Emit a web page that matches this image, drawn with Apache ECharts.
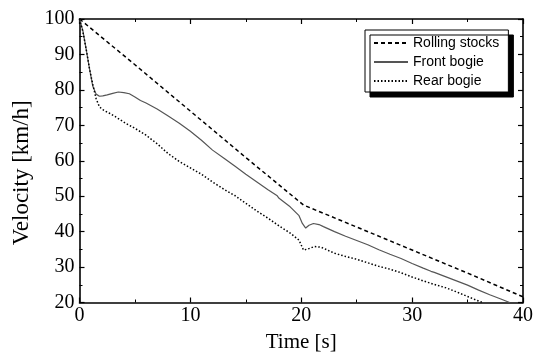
<!DOCTYPE html>
<html>
<head>
<meta charset="utf-8">
<script src="https://cdn.jsdelivr.net/npm/echarts@6/dist/echarts.min.js"></script>
<style>
  html, body { margin: 0; padding: 0; background: #fff; }
  #chart { width: 542px; height: 363px; }
</style>
</head>
<body>
<div id="chart"></div>
<script>
// 读图估出来的数据
const rollingTime = [0, 5, 10, 15, 20.2, 25, 30, 35, 40];
const rollingVel = [100, 87.1, 74.0, 60.9, 47.5, 41.3, 34.8, 28.3, 21.6];

const frontTime = [0, 0.3, 0.6, 0.9, 1.2, 1.5, 1.8, 2.1, 2.5, 3.0, 3.5, 4.0, 4.5, 5.0, 5.5, 6, 7, 8, 9, 10,
  11, 12, 13, 14, 15, 16, 17, 17.8, 18, 19, 19.8, 20.1, 20.4, 20.7, 21.1, 21.6, 22, 23, 24, 25, 26, 27, 28,
  29, 30, 31, 31.7, 32, 33, 34, 35, 36, 37, 38, 38.8];
const frontVel = [100, 96.8, 91.5, 86, 81, 78.8, 78.2, 78.3, 78.6, 79.0, 79.4, 79.2, 78.9, 78.0, 77, 76.3, 74.6, 72.6, 70.6, 68.3,
  65.8, 63.0, 60.8, 58.5, 56.2, 54, 51.8, 50.2, 49.4, 47.0, 44.5, 42.3, 41.0, 41.8, 42.3, 42.0, 41.4, 40.0, 38.7, 37.5, 36.3, 34.9, 33.6,
  32.4, 31.0, 29.7, 28.8, 28.5, 27.3, 26.1, 24.9, 23.5, 22.2, 21.0, 20];

const rearTime = [0, 0.3, 0.6, 0.9, 1.2, 1.5, 1.8, 2.2, 2.7, 3.2, 3.7, 4.2, 4.8, 5.5, 6, 7, 8, 9, 10,
  11, 12, 13, 14, 15, 16, 17, 18, 19, 19.8, 20.2, 20.6, 21.2, 21.8, 22.5, 23, 24, 25, 26, 27, 28, 29,
  30, 31, 32, 33, 34, 35, 36, 36.4];
const rearVel = [100, 96.5, 91.5, 86, 81.5, 77.5, 75.2, 74.2, 73.4, 72.5, 71.5, 70.5, 69.5, 68.2, 67.2, 64.8, 62.0, 59.8, 58,
  56.2, 54, 52, 50.2, 48, 45.8, 43.8, 41.6, 39.6, 37.6, 34.8, 35.1, 35.8, 35.6, 34.6, 33.9, 33, 32.2, 31.2, 30.2, 29.4, 28.4,
  27.2, 26.1, 25.1, 24.2, 23, 21.7, 20.4, 20];

const xTicks = [0, 10, 20, 30, 40];
const yTicks = [20, 30, 40, 50, 60, 70, 80, 90, 100];

const pairs = (ts, vs) => ts.map((t, i) => [t, vs[i]]);

const serif = 'Liberation Serif';
const tickStyle = { show: true, inside: true, length: 5, lineStyle: { color: '#000', width: 1.2 } };
const minorStyle = { show: true, splitNumber: 2, length: 3, lineStyle: { color: '#000', width: 1 } };
const lineAxis = { show: true, onZero: false, lineStyle: { color: '#000', width: 1.6 } };
// 图例里不要圆点
const noDot = { color: 'rgba(0,0,0,0)' };

let myChart = echarts.init(document.getElementById('chart'));
let option = {
  animation: false,
  backgroundColor: '#fff',
  grid: { left: 79.5, right: 19, top: 19, bottom: 60.5, containLabel: false },
  legend: {
    orient: 'vertical',
    left: 365,
    top: 30,
    padding: [6, 9, 4, 8],
    itemWidth: 34,
    itemHeight: 14,
    itemGap: 5,
    backgroundColor: '#fff',
    borderColor: '#000',
    borderWidth: 1,
    shadowColor: '#000',
    shadowBlur: 0,
    shadowOffsetX: 5,
    shadowOffsetY: 5,
    textStyle: { fontFamily: 'Liberation Sans', fontSize: 14, color: '#000' },
    data: ['Rolling stocks', 'Front bogie', 'Rear bogie']
  },
  xAxis: [
    {
      type: 'value', min: 0, max: 40, interval: 10,
      name: 'Time [s]', nameLocation: 'middle', nameGap: 29,
      nameTextStyle: { fontFamily: serif, fontSize: 21, color: '#000' },
      axisLine: lineAxis,
      axisTick: tickStyle,
      minorTick: minorStyle,
      splitLine: { show: false },
      axisLabel: {
        fontFamily: serif, fontSize: 20, color: '#000', margin: 3,
        formatter: v => xTicks.includes(v) ? String(v) : ''
      }
    },
    {
      type: 'value', position: 'top', min: 0, max: 40, interval: 10,
      axisLine: lineAxis, axisTick: tickStyle, minorTick: minorStyle,
      splitLine: { show: false }, axisLabel: { show: false }
    }
  ],
  yAxis: [
    {
      type: 'value', min: 20, max: 100, interval: 10,
      name: 'Velocity [km/h]', nameLocation: 'middle', nameGap: 40, nameRotate: 90,
      nameTextStyle: { fontFamily: serif, fontSize: 23, color: '#000', padding: [0, 24, 0, 0] },
      axisLine: lineAxis,
      axisTick: tickStyle,
      minorTick: minorStyle,
      splitLine: { show: false },
      axisLabel: {
        fontFamily: serif, fontSize: 20, color: '#000', margin: 5,
        formatter: v => yTicks.includes(v) ? String(v) : ''
      }
    },
    {
      type: 'value', position: 'right', min: 20, max: 100, interval: 10,
      axisLine: lineAxis, axisTick: tickStyle, minorTick: minorStyle,
      splitLine: { show: false }, axisLabel: { show: false }
    }
  ],
  series: [
    {
      name: 'Rolling stocks', type: 'line', symbol: 'none',
      lineStyle: { color: '#000', width: 1.5, type: [4, 3] },
      itemStyle: noDot,
      data: pairs(rollingTime, rollingVel)
    },
    {
      name: 'Front bogie', type: 'line', symbol: 'none',
      lineStyle: { color: '#555', width: 1.2 },
      itemStyle: noDot,
      data: pairs(frontTime, frontVel)
    },
    {
      name: 'Rear bogie', type: 'line', symbol: 'none',
      lineStyle: { color: '#000', width: 1.5, type: [1.5, 2] },
      itemStyle: noDot,
      data: pairs(rearTime, rearVel)
    }
  ]
};

myChart.setOption(option);
</script>
</body>
</html>
